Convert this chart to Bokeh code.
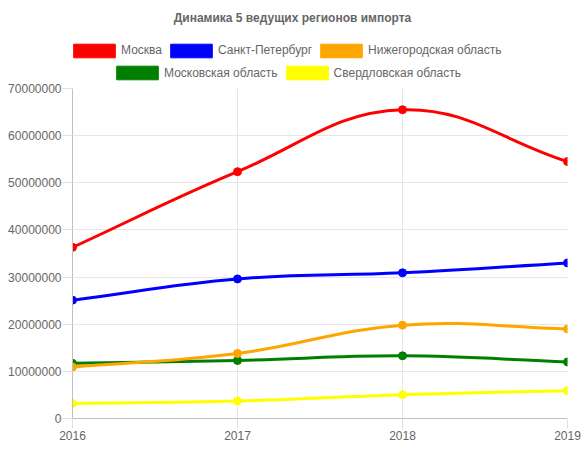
import math
from bokeh.plotting import figure
from bokeh.layouts import column
from bokeh.models import (Range1d, FixedTicker, Legend, LegendItem, Label,
                          NumeralTickFormatter, BasicTickFormatter)
from bokeh.embed import file_html
from bokeh.resources import INLINE

# ---- data ----
title_text = "Динамика 5 ведущих регионов импорта"
years = [2016, 2017, 2018, 2019]
series_names = ["Москва", "Санкт-Петербург", "Нижегородская область",
                "Московская область", "Свердловская область"]
moscow = [36300000, 52350000, 65500000, 54500000]
spb = [25100000, 29600000, 30900000, 33000000]
nizhny = [10900000, 13800000, 19800000, 19000000]
mosobl = [11700000, 12300000, 13300000, 12000000]
sverdl = [3200000, 3700000, 5050000, 5900000]
series_values = [moscow, spb, nizhny, mosobl, sverdl]
colors = ["#ff0000", "#0000ff", "#ffa500", "#008000", "#ffff00"]
y_ticks = [0, 10000000, 20000000, 30000000, 40000000, 50000000, 60000000, 70000000]

Y_MIN, Y_MAX = 0, 70000000
X_MIN, X_MAX = 2016, 2019
FRAME_W, FRAME_H = 495, 330
SX = FRAME_W / (X_MAX - X_MIN)
SY = FRAME_H / (Y_MAX - Y_MIN)
FONT = "Liberation Sans"
TXT = "#666666"
W = 584
HEADER_H = 81
LEFT, RIGHT = 72, 17


def spline_controls(xs, ys, tension=0.4):
    """Chart.js-style control points, computed in pixel space."""
    px = [(x - X_MIN) * SX for x in xs]
    py = [(y - Y_MIN) * SY for y in ys]
    n = len(px)
    prev_c, next_c = [], []
    for i in range(n):
        a, b = max(i - 1, 0), min(i + 1, n - 1)
        d01 = math.hypot(px[i] - px[a], py[i] - py[a])
        d12 = math.hypot(px[b] - px[i], py[b] - py[i])
        tot = d01 + d12
        s01 = d01 / tot if tot else 0
        s12 = d12 / tot if tot else 0
        fa, fb = tension * s01, tension * s12
        dx, dy = px[b] - px[a], py[b] - py[a]
        prev_c.append((px[i] - fa * dx, py[i] - fa * dy))
        next_c.append((px[i] + fb * dx, py[i] + fb * dy))

    def back(c):
        x = min(max(c[0], 0), FRAME_W) / SX + X_MIN
        y = min(max(c[1], 0), FRAME_H) / SY + Y_MIN
        return x, y

    return [back(c) for c in prev_c], [back(c) for c in next_c]


# ---------- header (title + legend) ----------
h = figure(width=W, height=HEADER_H, x_range=Range1d(0, 1), y_range=Range1d(0, 1),
           x_axis_type=None, y_axis_type=None, output_backend="svg",
           toolbar_location=None, min_border_left=LEFT, min_border_right=RIGHT,
           min_border_top=0, min_border_bottom=0)
h.outline_line_color = None
h.xgrid.visible = False
h.ygrid.visible = False
h.background_fill_color = "white"
h.border_fill_color = "white"

# hidden renderers, used only to give the legend its colour boxes
swatches = []
for col in colors:
    r = h.rect(x=[0.5], y=[0.5], width=1, height=1, fill_color=col,
               line_color=col, line_join="miter")
    r.visible = False
    swatches.append(r)


def add_legend(idx, loc):
    items = [LegendItem(label=series_names[i], renderers=[swatches[i]]) for i in idx]
    lg = Legend(items=items, location=loc, orientation="horizontal",
                glyph_width=52, glyph_height=17, label_standoff=1, spacing=3,
                padding=0, margin=0, border_line_color=None,
                background_fill_alpha=0, label_height=14,
                inactive_fill_alpha=0,
                label_text_font=FONT, label_text_font_size="12px",
                label_text_color=TXT)
    h.add_layout(lg)


add_legend([0, 1, 2], (68 - LEFT, HEADER_H - 58.5))
add_legend([3, 4], (111 - LEFT, HEADER_H - 81))

h.add_layout(Label(x=292 - LEFT, y=HEADER_H - 17.5, x_units="screen", y_units="screen",
                   text=title_text, text_align="center", text_baseline="middle",
                   text_font=FONT, text_font_size="12px", text_font_style="bold",
                   text_color=TXT))

# ---------- main chart ----------
p = figure(width=W, height=369,
           x_range=Range1d(X_MIN, X_MAX), y_range=Range1d(Y_MIN, Y_MAX),
           output_backend="svg", toolbar_location=None,
           min_border_left=LEFT, min_border_right=RIGHT,
           min_border_top=7, min_border_bottom=32)
p.outline_line_color = None
p.background_fill_color = "white"
p.border_fill_color = "white"

p.xgrid.ticker = FixedTicker(ticks=years)
p.ygrid.ticker = FixedTicker(ticks=y_ticks)
p.xgrid.grid_line_color = "#e6e6e6"
p.ygrid.grid_line_color = "#e6e6e6"

p.xaxis.ticker = FixedTicker(ticks=years)
p.yaxis.ticker = FixedTicker(ticks=y_ticks)
p.xaxis.formatter = BasicTickFormatter(use_scientific=False)
p.yaxis.formatter = NumeralTickFormatter(format="0")
for ax in (p.xaxis, p.yaxis):
    ax.axis_line_color = "#bfbfbf"
    ax.major_tick_line_color = "#e0e0e0"
    ax.major_tick_in = 0
    ax.major_tick_out = 10
    ax.minor_tick_line_color = None
    ax.major_label_text_font = FONT
    ax.major_label_text_font_size = "12px"
    ax.major_label_text_color = TXT
p.xaxis.major_label_standoff = 2
p.yaxis.major_label_standoff = 1

# Chart.js draws the first dataset on top -> draw in reverse order
for vals, col in reversed(list(zip(series_values, colors))):
    prev_c, next_c = spline_controls(years, vals)
    p.bezier(x0=years[:-1], y0=vals[:-1], x1=years[1:], y1=vals[1:],
             cx0=[c[0] for c in next_c[:-1]], cy0=[c[1] for c in next_c[:-1]],
             cx1=[c[0] for c in prev_c[1:]], cy1=[c[1] for c in prev_c[1:]],
             line_color=col, line_width=3)
    p.scatter(years, vals, size=8, fill_color=col, line_color=col)

layout = column(h, p, spacing=0)
open("out.html", "w").write(file_html(layout, INLINE))
